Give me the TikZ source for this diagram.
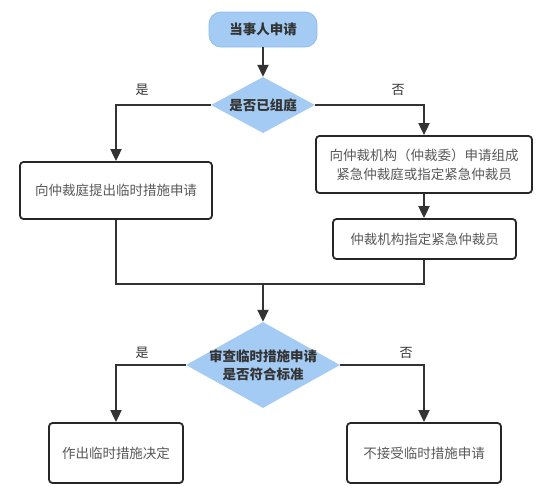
\documentclass[tikz,border=0pt]{standalone}
\usepackage{fontspec}
\setmainfont{Noto Sans CJK SC}
\usetikzlibrary{arrows.meta,shapes.geometric}
\definecolor{bluefill}{HTML}{A4CBF3}
\definecolor{blueedge}{HTML}{8FBDEF}
\definecolor{lineC}{HTML}{333333}
\definecolor{txtgrey}{HTML}{595959}
\tikzset{
  conn/.style={draw=lineC, line width=1.9pt},
  arr/.style={conn, -{Triangle[length=12pt,width=11pt]}},
  pill/.style={rounded corners=12pt, fill=bluefill, draw=blueedge, line width=0.8pt,
    minimum width=108pt, minimum height=35pt, font=\fontsize{13.5}{17}\selectfont\bfseries, text=lineC},
  dia/.style={diamond, fill=bluefill, draw=none, inner sep=0pt},
  dtext/.style={font=\fontsize{13.5}{18}\selectfont\bfseries, text=lineC, align=center},
  box/.style={rectangle, rounded corners=3.5pt, draw=black!85, line width=1.8pt, fill=white,
    font=\fontsize{13.5}{19}\selectfont, text=txtgrey, align=center, inner sep=0pt},
  lab/.style={font=\fontsize{13}{15}\selectfont, text=lineC}
}
\begin{document}
\begin{tikzpicture}[x=1pt,y=-1pt]
\useasboundingbox (0,0) rectangle (547,491);
\node[pill] (start) at (263,29.5) {当事人申请};
\node[dia, minimum width=104pt, minimum height=56pt] (d1) at (263,105) {};
\node[dtext] (d1t) at (d1) {是否已组庭};
\node[box, minimum width=192pt, minimum height=57pt] (lb) at (116,190.5) {向仲裁庭提出临时措施申请};
\node[box, minimum width=216pt, minimum height=57pt] (rb1) at (424,164.5) {向仲裁机构（仲裁委）申请组成\\紧急仲裁庭或指定紧急仲裁员};
\node[box, minimum width=183pt, minimum height=40pt] (rb2) at (424.5,239) {仲裁机构指定紧急仲裁员};
\coordinate (m) at (263,284);
\node[dia, minimum width=154pt, minimum height=86pt] (d2) at (263,365) {};
\node[dtext] (d2t) at (d2) {审查临时措施申请\\是否符合标准};
\node[box, minimum width=134pt, minimum height=60pt] (yb) at (116,453) {作出临时措施决定};
\node[box, minimum width=154pt, minimum height=60pt] (nb) at (424,453) {不接受临时措施申请};

\draw[arr] (start) -- (d1);
\draw[arr] (d1.west) -| (lb.north);
\draw[arr] (d1.east) -| (rb1.north);
\draw[arr] (rb1) -- (rb1.south |- rb2.north);
\draw[conn] (lb.south) |- (m);
\draw[conn] (rb1.south |- rb2.south) |- (m);
\draw[arr] (m) -- (d2.north);
\draw[arr] (d2.west) -| (yb.north);
\draw[arr] (d2.east) -| (nb.north);

\node[lab] (l1) at (142,90) {是};
\node[lab] (l2) at (398,90) {否};
\node[lab] (l3) at (142,353) {是};
\node[lab] (l4) at (406,353) {否};
\end{tikzpicture}
\end{document}
